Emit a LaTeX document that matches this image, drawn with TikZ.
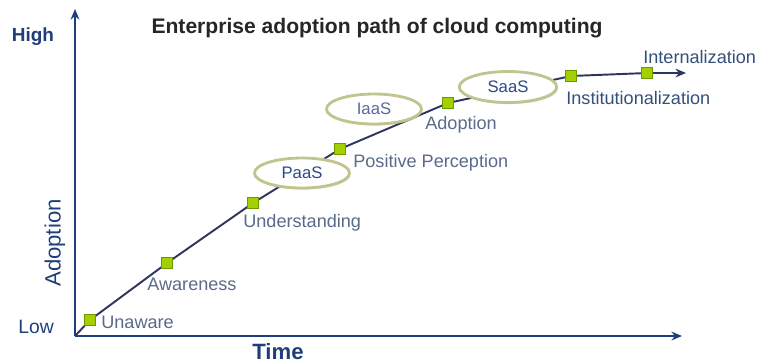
\documentclass[tikz,border=0pt]{standalone}
\usepackage{fontspec}
\setmainfont{Liberation Sans}
\usetikzlibrary{shapes.geometric,arrows.meta,shadows}
\definecolor{axisblue}{HTML}{1F3F7A}
\definecolor{curvecol}{HTML}{2E3560}
\definecolor{labgray}{HTML}{5A6A8A}
\definecolor{labblue}{HTML}{34507A}
\definecolor{ellblue}{HTML}{2A4A8A}
\definecolor{iaasblue}{HTML}{5A6A9A}
\definecolor{ellborder}{HTML}{C2C48E}
\definecolor{mkfill}{HTML}{A4D000}
\definecolor{mkdraw}{HTML}{6A9A00}
\tikzset{
  px/.style={x=0.02cm,y=-0.02cm},
  marker/.style={rectangle,fill=mkfill,draw=mkdraw,line width=0.6pt,minimum size=0.21cm,inner sep=0pt},
  phase/.style={ellipse,fill=white,draw=ellborder,line width=1.6pt,minimum width=1.9cm,minimum height=0.6cm,inner sep=0pt,
     drop shadow={shadow xshift=0.6pt,shadow yshift=-0.9pt,opacity=0.3},text=ellblue,font=\fontsize{9.5}{11}\selectfont},
  glabel/.style={text=labgray,font=\fontsize{10.3}{12}\selectfont,inner sep=0pt,anchor=west},
  blabel/.style={text=labblue,font=\fontsize{10.3}{12}\selectfont,inner sep=0pt,anchor=west},
  axis/.style={draw=axisblue,line width=1.2pt,-{Stealth[length=6pt,width=5pt]}},
  curve/.style={draw=curvecol,line width=1.1pt},
}
\begin{document}
\begin{tikzpicture}[px]
\useasboundingbox (0,0) rectangle (759,363);
% axes
\coordinate (O) at (75,336);
\coordinate (ytip) at (75,9);
\coordinate (xtip) at (682,336);
\draw[axis] (O) -- (ytip);
\draw[axis] (O) -- (xtip);
% axis labels
\node[text=axisblue,font=\bfseries\fontsize{10.8}{12}\selectfont] (high) at (33,37) {High};
\node[text=axisblue,font=\fontsize{11}{12}\selectfont] (low) at (36,327) {Low};
\node[text=axisblue,font=\fontsize{12.6}{14}\selectfont,rotate=90] (adop) at (55,243) {Adoption};
\node[text=axisblue,font=\bfseries\fontsize{12.6}{14}\selectfont] (time) at (278,352) {Time};
% title
\node[font=\bfseries\fontsize{12}{14}\selectfont,text=black!85] (title) at (377,28) {Enterprise adoption path of cloud computing};
% curve points
\coordinate (c0) at (75,336);
\node[marker] (m1) at (90,320) {};
\node[marker] (m2) at (167,263) {};
\node[marker] (m3) at (253,203) {};
\node[marker] (m4) at (340,149) {};
\node[marker] (m5) at (448,103) {};
\node[marker] (m6) at (571,76) {};
\node[marker] (m7) at (647,73) {};
\coordinate (ctip) at (686,73);
\draw[curve] (c0) -- (m1.center) -- (m2.center) -- (m3.center) -- (m4.center) -- (m5.center) -- (m6.center) -- (m7.center);
\draw[curve,-{Stealth[length=6pt,width=5pt]}] (m7) -- (ctip);
% redraw markers on top
\foreach \m/\x/\y in {a/90/320,b/167/263,c/253/203,d/340/149,e/448/103,f/571/76,g/647/73}
  \node[marker] (mk\m) at (\x,\y) {};
% ellipses
\node[phase] (paas) at (302,173) {PaaS};
\node[phase,text=iaasblue] (iaas) at (374,109) {IaaS};
\node[phase,minimum width=1.95cm,minimum height=0.62cm] (saas) at (508,87) {SaaS};
% stage labels
\node[glabel] (l1) at (101,322) {Unaware};
\node[glabel] (l2) at (147,284) {Awareness};
\node[glabel] (l3) at (243,223) {Understanding};
\node[glabel] (l4) at (353,163) {Positive Perception};
\node[glabel] (l5) at (425,125) {Adoption};
\node[blabel] (l6) at (566,98) {Institutionalization};
\node[blabel] (l7) at (643,57) {Internalization};
\end{tikzpicture}
\end{document}
